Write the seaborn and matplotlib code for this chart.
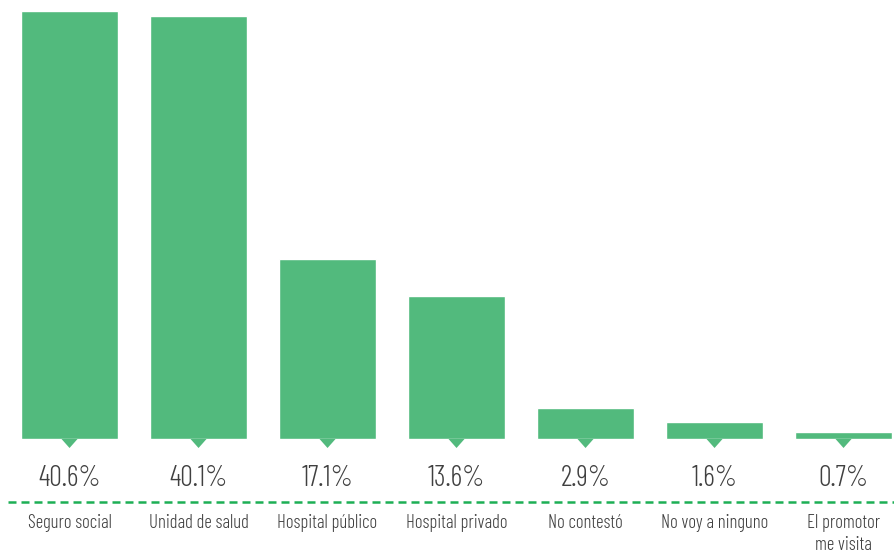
import matplotlib
matplotlib.use("Agg")
import matplotlib.pyplot as plt
import seaborn as sns
import pandas as pd

categories = ["Seguro social", "Unidad de salud", "Hospital público", "Hospital privado",
              "No contestó", "No voy a ninguno", "El promotor\nme visita"]
values = [40.6, 40.1, 17.1, 13.6, 2.9, 1.6, 0.7]
value_labels = ["40.6%", "40.1%", "17.1%", "13.6%", "2.9%", "1.6%", "0.7%"]

GREEN = "#52BA7D"
DASH = "#1DAF55"
TEXT = "#404040"

sns.set_theme(style="white")
plt.rcParams['font.family'] = ['Barlow Condensed', 'DejaVu Sans']

fig = plt.figure(figsize=(8.95, 5.58), dpi=100)
ax = fig.add_axes([0, 0, 1, 1])

df = pd.DataFrame({"cat": categories, "val": values})
sns.barplot(data=df, x="cat", y="val", color=GREEN, saturation=1, width=0.752, ax=ax)

ax.set_xlim(-0.539, 6.399)
ax.set_ylim(-11.29, 41.65)
ax.axis("off")

hw = 8 / 129
th = 9 / 10.54
for i, (v, lab, cat) in enumerate(zip(values, value_labels, categories)):
    ax.fill([i - hw, i + hw, i], [0, 0, -th], color=GREEN, lw=0)
    ax.text(i, -3.79, lab, ha="center", va="center", fontsize=20.5, color=TEXT, fontweight=300)
    ax.text(i, -7.1, cat, ha="center", va="top", fontsize=13.5, color=TEXT,
            linespacing=1.3, fontweight=300)

ax.plot([-0.48, 6.4], [-5.98, -5.98], color=DASH, lw=1.8, dashes=(3.2, 2.0))

fig.savefig("out.png", dpi=100)
